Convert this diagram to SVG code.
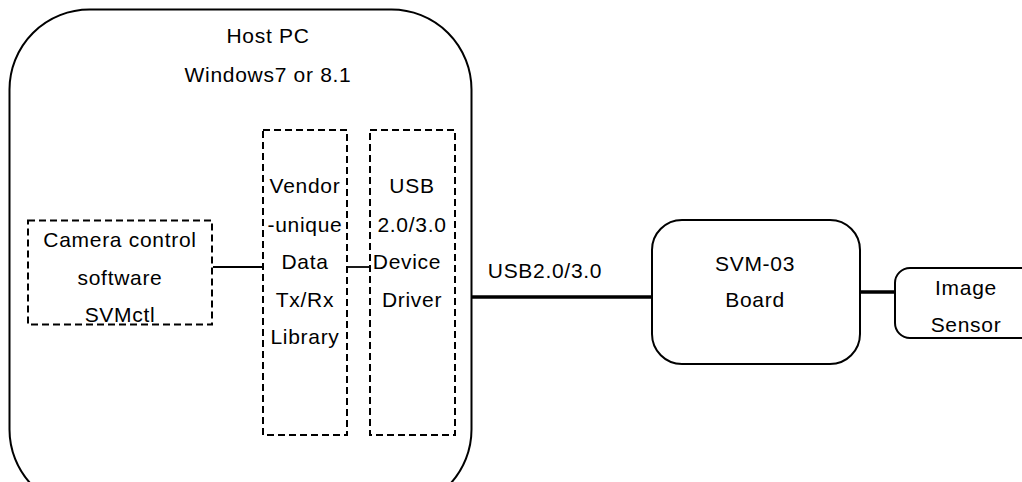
<svg xmlns="http://www.w3.org/2000/svg" width="1022" height="482" viewBox="0 0 1022 482">
<style>
text { font-family: "Liberation Sans", Arial, sans-serif; font-size: 21px; letter-spacing: 0.7px; fill: #000; text-anchor: middle; }
.solid { fill: #fff; stroke: #000; stroke-width: 2; }
.dash { fill: none; stroke: #000; stroke-width: 2; stroke-dasharray: 7 4; }
.thin { stroke: #000; stroke-width: 1.8; fill: none; }
.thick { stroke: #000; stroke-width: 3.5; fill: none; }
</style>
<rect width="1022" height="482" fill="#fff"/>
<g id="host-pc">
<rect class="solid" x="9.5" y="9.5" width="462" height="500" rx="80" ry="80"/>
<text x="268" y="43">Host PC</text>
<text x="268" y="82">Windows7 or 8.1</text>
</g>
<g id="camera-control">
<rect class="dash" x="28" y="220.5" width="184" height="104"/>
<text x="120" y="247">Camera control</text>
<text x="120" y="285">software</text>
<text x="120" y="322">SVMctl</text>
</g>
<g id="vendor-library">
<rect class="dash" x="263" y="130" width="84" height="305"/>
<text x="305" y="193">Vendor</text>
<text x="305" y="232">-unique</text>
<text x="305" y="269">Data</text>
<text x="305" y="307">Tx/Rx</text>
<text x="305" y="344">Library</text>
</g>
<g id="usb-driver">
<rect class="dash" x="370" y="130" width="85" height="305"/>
<text x="412" y="193">USB</text>
<text x="412" y="232">2.0/3.0</text>
<text x="407" y="269">Device</text>
<text x="412" y="307">Driver</text>
</g>
<g id="svm-board">
<rect class="solid" x="652" y="220" width="208" height="144" rx="30" ry="30"/>
<text x="755" y="271">SVM-03</text>
<text x="755" y="307">Board</text>
</g>
<g id="image-sensor">
<rect class="solid" x="895" y="268" width="150" height="70" rx="15" ry="15"/>
<text x="966" y="295">Image</text>
<text x="966" y="332">Sensor</text>
</g>
<g id="connectors">
<line class="thin" x1="213" y1="267" x2="262" y2="267"/>
<line class="thin" x1="348" y1="267" x2="369" y2="267"/>
<line class="thick" x1="472" y1="297" x2="652" y2="297"/>
<line class="thick" x1="861" y1="292" x2="895" y2="292"/>
<text x="545" y="278">USB2.0/3.0</text>
</g>
</svg>
